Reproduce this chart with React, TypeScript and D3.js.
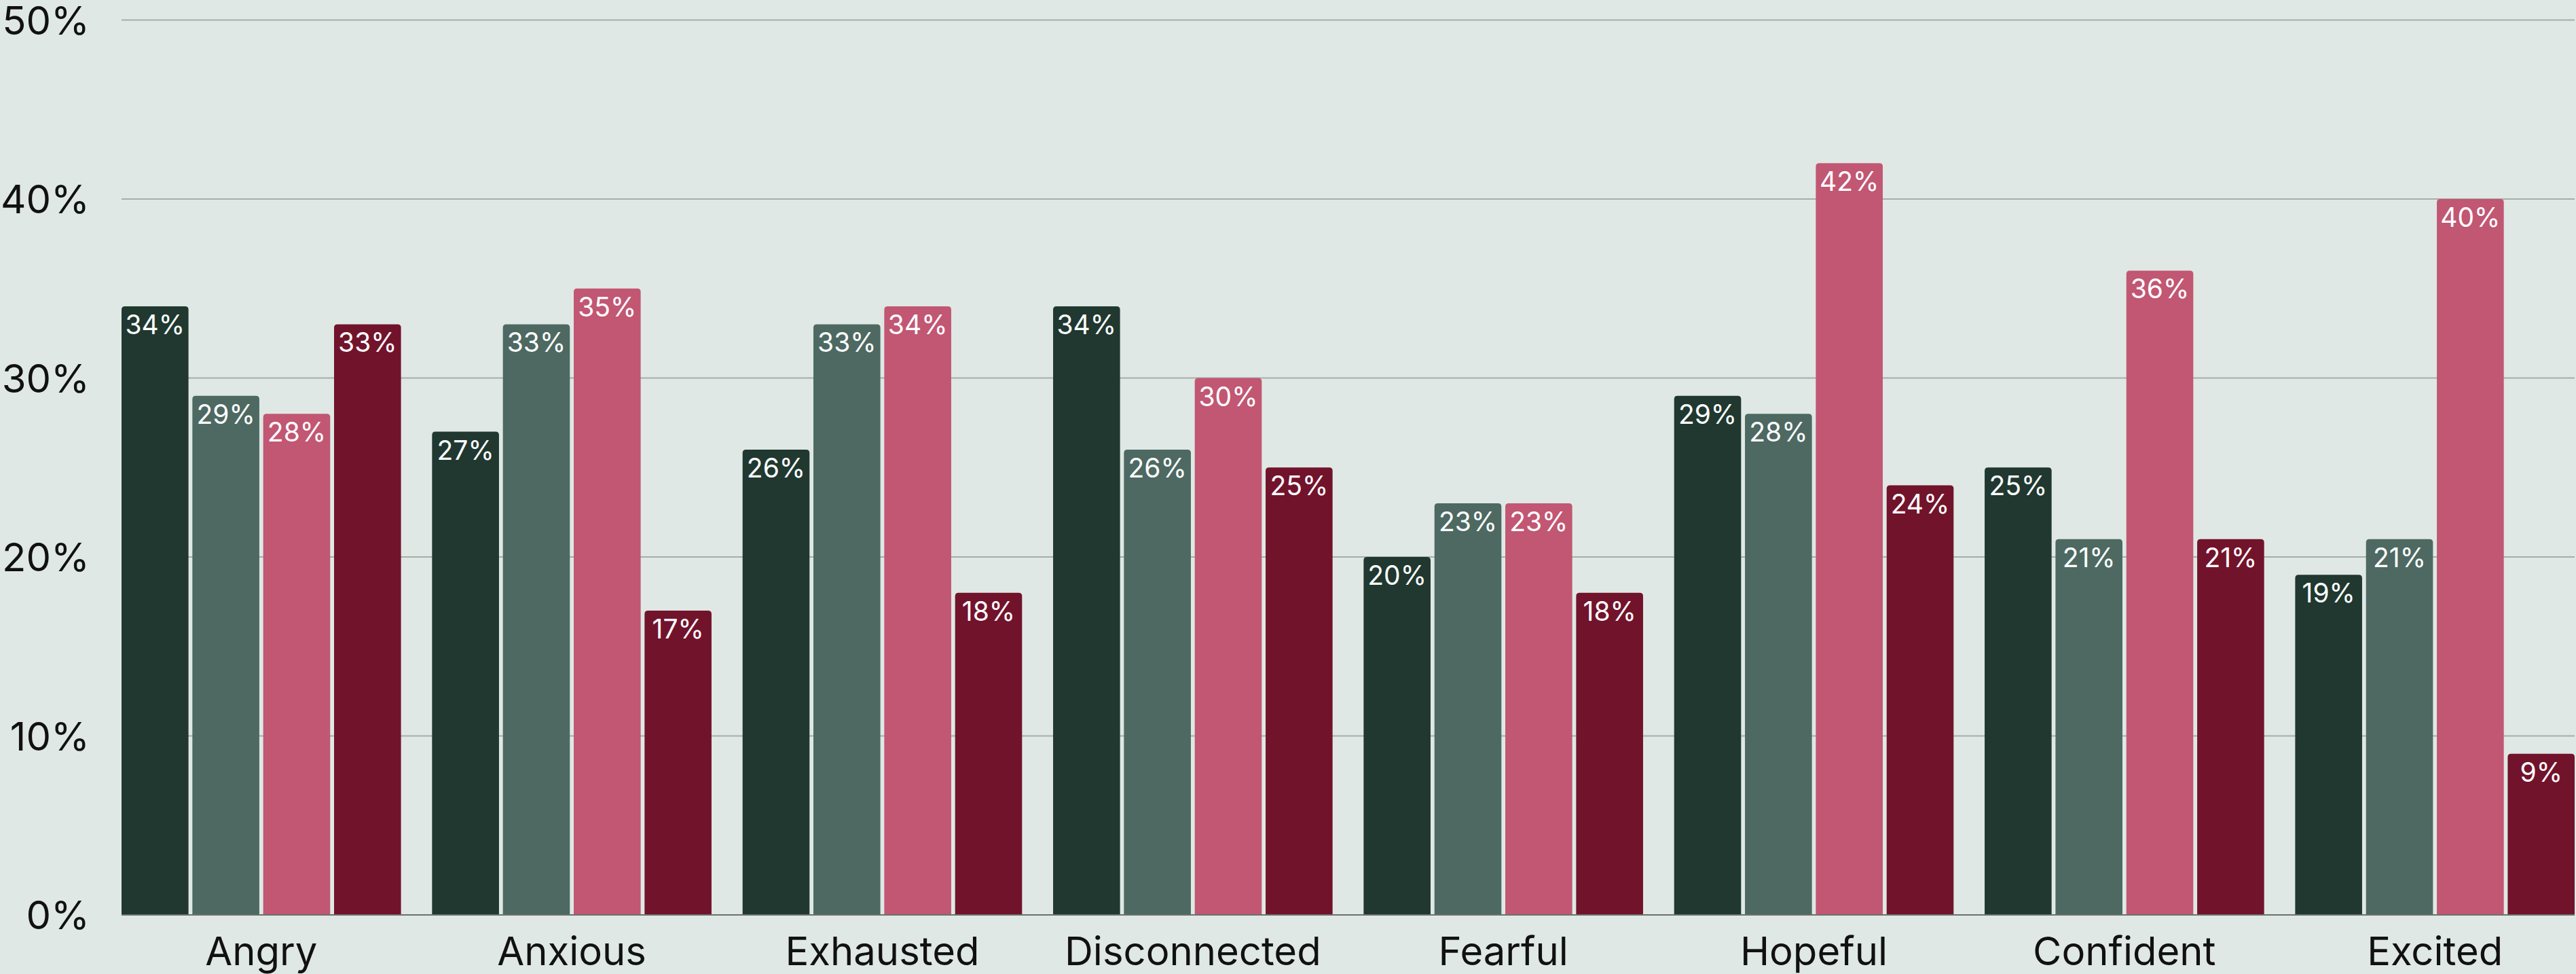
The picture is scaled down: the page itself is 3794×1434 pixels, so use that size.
import React from "react";
import * as d3 from "d3";

const categories = ["Angry", "Anxious", "Exhausted", "Disconnected", "Fearful", "Hopeful", "Confident", "Excited"];
const seriesNames = ["s1", "s2", "s3", "s4"];
const series1 = [34, 27, 26, 34, 20, 29, 25, 19];
const series2 = [29, 33, 33, 26, 23, 28, 21, 21];
const series3 = [28, 35, 34, 30, 23, 42, 36, 40];
const series4 = [33, 17, 18, 25, 18, 24, 21, 9];
const seriesValues = [series1, series2, series3, series4];
const yTicks = [0, 10, 20, 30, 40, 50];
const colors = ["#203830", "#4d6962", "#c15773", "#72132c"];

const W = 3794;
const H = 1434;
const margin = { left: 179, right: 2, top: 29.5, bottom: 87 };
const FONT = "Inter, 'DejaVu Sans', sans-serif";

function topRoundedRect(x: number, y: number, w: number, h: number, r: number) {
  const rr = Math.min(r, h, w / 2);
  return `M${x},${y + h}V${y + rr}Q${x},${y} ${x + rr},${y}H${x + w - rr}Q${x + w},${y} ${x + w},${y + rr}V${y + h}Z`;
}

export default function App() {
  const x0 = d3
    .scaleBand<string>()
    .domain(categories)
    .range([margin.left, W - margin.right])
    .paddingInner(0.1)
    .paddingOuter(0);
  const x1 = d3
    .scaleBand<string>()
    .domain(seriesNames)
    .range([0, x0.bandwidth()])
    .paddingInner(0.055)
    .paddingOuter(0);
  const y = d3.scaleLinear().domain([0, 50]).range([H - margin.bottom, margin.top]);

  return (
    <svg
      width={W}
      height={H}
      style={{ position: "absolute", left: 0, top: 0, display: "block" }}
      fontFamily={FONT}
    >
      <rect x={0} y={0} width={W} height={H} fill="#dfe8e4" />
      {yTicks.map((t) => (
        <g key={t}>
          {t > 0 && (
            <line
              x1={margin.left}
              x2={W - margin.right}
              y1={y(t)}
              y2={y(t)}
              stroke="#a6aeaa"
              strokeWidth={2}
            />
          )}
          <text
            x={132}
            y={y(t)}
            textAnchor="end"
            dominantBaseline="central"
            fontSize={58}
            fill="#111"
          >
            {`${t}%`}
          </text>
        </g>
      ))}
      {categories.map((c, i) => (
        <g key={c}>
          {seriesValues.map((vals, j) => {
            const v = vals[i];
            const bx = (x0(c) as number) + (x1(seriesNames[j]) as number);
            const bw = x1.bandwidth();
            const by = y(v);
            const bh = y(0) - by;
            return (
              <g key={j}>
                <path d={topRoundedRect(bx, by, bw, bh, 5)} fill={colors[j]} />
                <text
                  x={bx + bw / 2}
                  y={by + 41}
                  textAnchor="middle"
                  fontSize={39}
                  fill="#ffffff"
                >
                  {`${v}%`}
                </text>
              </g>
            );
          })}
          <text
            x={(x0(c) as number) + x0.bandwidth() / 2}
            y={H - 13}
            textAnchor="middle"
            fontSize={58}
            fill="#111"
          >
            {c}
          </text>
        </g>
      ))}
      <line
        x1={margin.left}
        x2={W - margin.right}
        y1={y(0)}
        y2={y(0)}
        stroke="#6b716e"
        strokeWidth={2}
      />
    </svg>
  );
}
